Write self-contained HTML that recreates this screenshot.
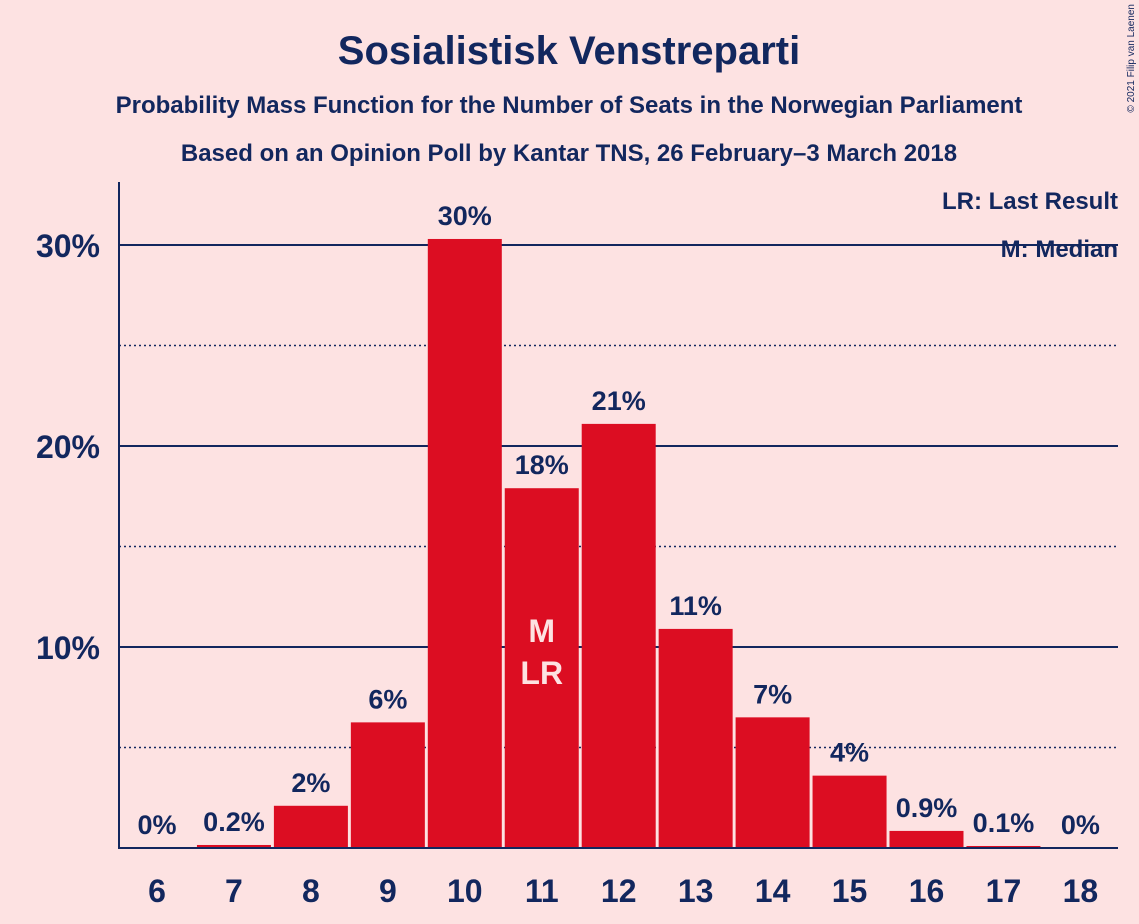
<!DOCTYPE html>
<html><head><meta charset="utf-8"><style>
body{margin:0;background:#fde2e2;}
svg{display:block;font-family:"Liberation Sans",sans-serif;}
</style></head><body>
<svg id="chart" width="1139" height="924" viewBox="0 0 1139 924">
<rect width="1139" height="924" fill="#fde2e2"/>
<text x="569" y="64" text-anchor="middle" font-size="40" font-weight="bold" fill="#12275e">Sosialistisk Venstreparti</text>
<text x="569" y="113" text-anchor="middle" font-size="24" font-weight="bold" fill="#12275e">Probability Mass Function for the Number of Seats in the Norwegian Parliament</text>
<text x="569" y="161" text-anchor="middle" font-size="24" font-weight="bold" fill="#12275e">Based on an Opinion Poll by Kantar TNS, 26 February–3 March 2018</text>
<text x="1134" y="4" transform="rotate(-90 1134 4)" text-anchor="end" font-size="10" fill="#12275e">© 2021 Filip van Laenen</text>
<g id="grid"></g>
<g id="bars"></g>
<line x1="119" y1="182" x2="119" y2="848" stroke="#12275e" stroke-width="2"/>
<line x1="118" y1="848" x2="1118" y2="848" stroke="#12275e" stroke-width="2"/>
<text x="1118" y="209" text-anchor="end" font-size="24" font-weight="bold" fill="#12275e">LR: Last Result</text>
<text x="1118" y="257" text-anchor="end" font-size="24" font-weight="bold" fill="#12275e">M: Median</text>
</svg>
<script>
const seats=[6,7,8,9,10,11,12,13,14,15,16,17,18];
const probs=[0,0.15,2.1,6.25,30.3,17.9,21.1,10.9,6.5,3.6,0.85,0.1,0];
const valueLabels=["0%","0.2%","2%","6%","30%","18%","21%","11%","7%","4%","0.9%","0.1%","0%"];
const yTicks=[10,20,30];
const yTickLabels=["10%","20%","30%"];
const minorTicks=[5,15,25];
const medianSeat=11, lastResultSeat=11;
const NS="http://www.w3.org/2000/svg";
const y=v=>848-v*20.1;
const x=s=>157+(s-6)*76.95;
function mk(tag,attrs,parent){const e=document.createElementNS(NS,tag);for(const k in attrs)e.setAttribute(k,attrs[k]);parent.appendChild(e);return e;}
const grid=document.getElementById('grid'),bars=document.getElementById('bars');
yTicks.forEach((t,i)=>{
 const l=mk('line',{x1:119,x2:1118,y1:y(t),y2:y(t),stroke:'#12275e','stroke-width':2},grid);
 
 
 const tx=mk('text',{x:100,y:y(t)+12,'text-anchor':'end','font-size':32,'font-weight':'bold',fill:'#12275e'},grid);
 tx.textContent=yTickLabels[i];
 
 
});
minorTicks.forEach(t=>{
 const l=mk('line',{x1:119,x2:1118,y1:y(t),y2:y(t),stroke:'#12275e','stroke-width':1.5,'stroke-dasharray':'2,3'},grid);
 
 
});
seats.forEach((s,i)=>{
 const cx=x(s),top=y(probs[i]);
 if(probs[i]>0){
  const r=mk('rect',{x:cx-37,y:top,width:74,height:848-top,fill:'#dc0d22'},bars);
  
  
 }
 const v=mk('text',{x:cx,y:top-14,'text-anchor':'middle','font-size':27,'font-weight':'bold',fill:'#12275e'},bars);
 v.textContent=valueLabels[i];
 
 
 const xl=mk('text',{x:cx,y:902,'text-anchor':'middle','font-size':32,'font-weight':'bold',fill:'#12275e'},bars);
 xl.textContent=s;
 
 
 if(s===medianSeat){
  const m=mk('text',{x:cx,y:642,'text-anchor':'middle','font-size':32,'font-weight':'bold',fill:'#fde2e2'},bars);
  m.textContent='M';
  
  
 }
 if(s===lastResultSeat){
  const m=mk('text',{x:cx,y:684,'text-anchor':'middle','font-size':32,'font-weight':'bold',fill:'#fde2e2'},bars);
  m.textContent='LR';
  
  
 }
});
</script>
</body></html>
